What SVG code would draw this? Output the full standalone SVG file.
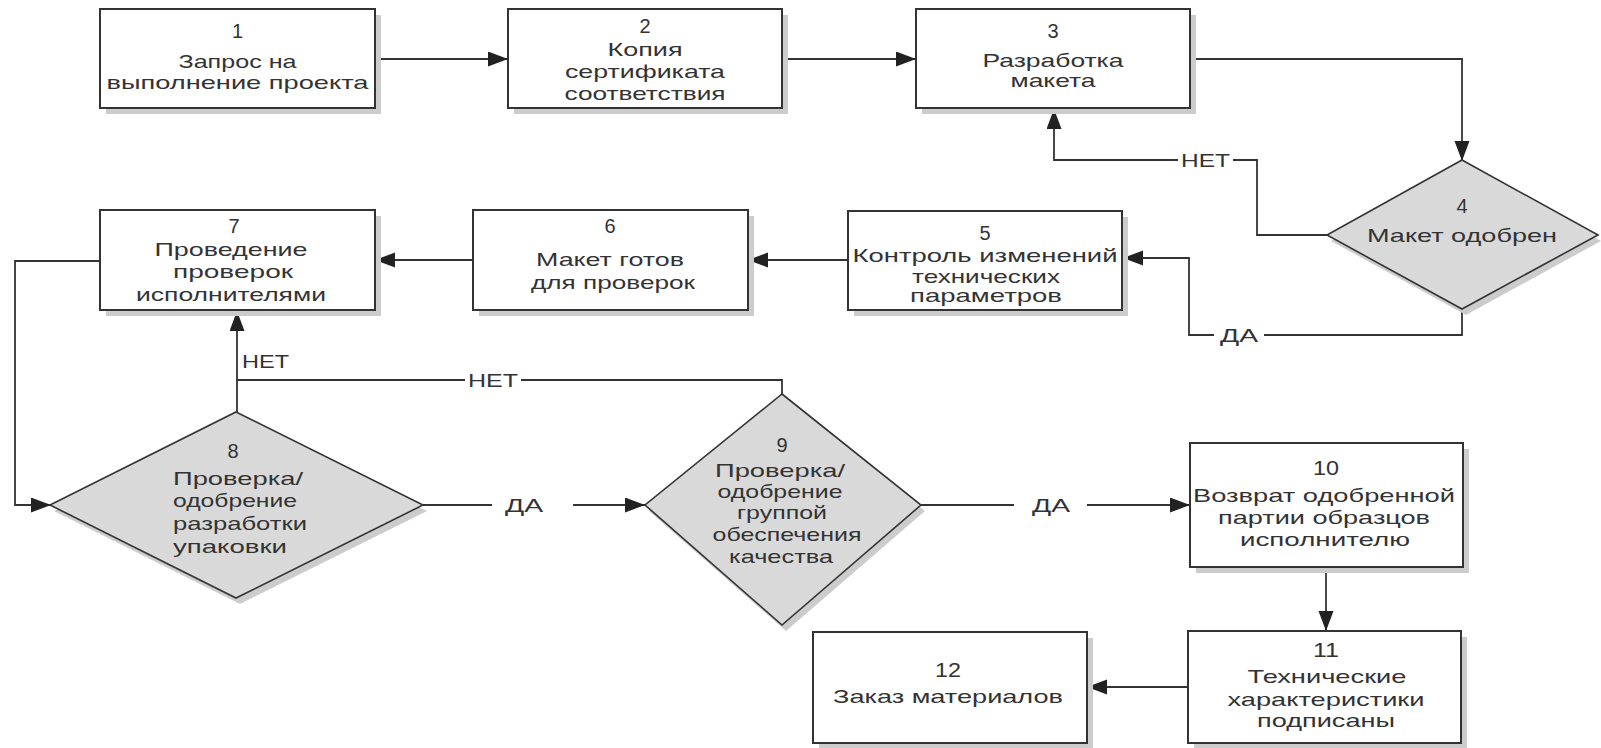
<svg xmlns="http://www.w3.org/2000/svg" width="1601" height="748" viewBox="0 0 1601 748">
  <style>
    .box { fill: #ffffff; stroke: #333333; stroke-width: 2; }
    .dia { fill: #d9d9d9; stroke: #333333; stroke-width: 1.6; }
    .shadow { fill: #cccccc; stroke: none; }
    .edge { fill: none; stroke: #333333; stroke-width: 1.8; }
    text { font-family: "Liberation Sans", Arial, sans-serif; font-size: 19px; fill: #333333; text-anchor: middle; }
    .num { font-size: 20px; }
    .left { text-anchor: start; }
    .lbl { font-size: 18px; }
  </style>
  <defs>
    <marker id="arrow" markerUnits="userSpaceOnUse" markerWidth="20" markerHeight="16" refX="20" refY="7.5" orient="auto">
      <path d="M0,0 L20,7.5 L0,15 z" fill="#222222"/>
    </marker>
  </defs>

  <rect width="1601" height="748" fill="#ffffff"/>

  <!-- connectors -->
  <g id="connectors">
    <path class="edge" d="M375 59 H508" marker-end="url(#arrow)"/>
    <path class="edge" d="M782 59 H916" marker-end="url(#arrow)"/>
    <path class="edge" d="M1190 59 H1462 V161" marker-end="url(#arrow)"/>
    <path class="edge" d="M1327 235 H1257 V160 H1233 M1178 160 H1054 V109" marker-end="url(#arrow)"/>
    <path class="edge" d="M1462 309 V335 H1264 M1214 335 H1189 V258 H1123" marker-end="url(#arrow)"/>
    <path class="edge" d="M848 260 H748" marker-end="url(#arrow)"/>
    <path class="edge" d="M473 260 H375" marker-end="url(#arrow)"/>
    <path class="edge" d="M100 261 H15 V505 H51" marker-end="url(#arrow)"/>
    <path class="edge" d="M237 412 V311" marker-end="url(#arrow)"/>
    <path class="edge" d="M782 394 V380 H521 M465 380 H237"/>
    <path class="edge" d="M423 505 H492 M573 505 H645" marker-end="url(#arrow)"/>
    <path class="edge" d="M921 505 H1014 M1087 505 H1190" marker-end="url(#arrow)"/>
    <path class="edge" d="M1326 567 V631" marker-end="url(#arrow)"/>
    <path class="edge" d="M1188 687 H1087" marker-end="url(#arrow)"/>

    <text class="lbl" x="1205.5" y="167" textLength="49" lengthAdjust="spacingAndGlyphs">НЕТ</text>
    <text class="lbl" x="1239" y="342" textLength="38" lengthAdjust="spacingAndGlyphs">ДА</text>
    <text class="lbl left" x="242" y="368" textLength="47" lengthAdjust="spacingAndGlyphs">НЕТ</text>
    <text class="lbl" x="493" y="387" textLength="50" lengthAdjust="spacingAndGlyphs">НЕТ</text>
    <text class="lbl" x="524" y="512" textLength="38" lengthAdjust="spacingAndGlyphs">ДА</text>
    <text class="lbl" x="1051" y="512" textLength="38" lengthAdjust="spacingAndGlyphs">ДА</text>
  </g>

  <!-- 1 -->
  <g id="node1">
    <rect class="shadow" x="106" y="15" width="275" height="99"/>
    <rect class="box" x="100" y="9" width="275" height="99"/>
    <text class="num" x="237.5" y="38">1</text>
    <text x="237.5" y="68" textLength="118" lengthAdjust="spacingAndGlyphs">Запрос на</text>
    <text x="237.5" y="89" textLength="262" lengthAdjust="spacingAndGlyphs">выполнение проекта</text>
  </g>

  <!-- 2 -->
  <g id="node2">
    <rect class="shadow" x="514" y="15" width="274" height="99"/>
    <rect class="box" x="508" y="9" width="274" height="99"/>
    <text class="num" x="645" y="33">2</text>
    <text x="645" y="56" textLength="75" lengthAdjust="spacingAndGlyphs">Копия</text>
    <text x="645" y="78" textLength="160" lengthAdjust="spacingAndGlyphs">сертификата</text>
    <text x="645" y="100" textLength="161" lengthAdjust="spacingAndGlyphs">соответствия</text>
  </g>

  <!-- 3 -->
  <g id="node3">
    <rect class="shadow" x="922" y="15" width="274" height="99"/>
    <rect class="box" x="916" y="9" width="274" height="99"/>
    <text class="num" x="1053" y="38">3</text>
    <text x="1053" y="67" textLength="141" lengthAdjust="spacingAndGlyphs">Разработка</text>
    <text x="1053" y="87" textLength="85" lengthAdjust="spacingAndGlyphs">макета</text>
  </g>

  <!-- 4 -->
  <g id="node4">
    <polygon class="shadow" points="1466,166 1601,241 1466,315 1331,241"/>
    <polygon class="dia" points="1462,160 1598,235 1462,309 1327,235"/>
    <text class="num" x="1462" y="213">4</text>
    <text x="1462" y="242" textLength="190" lengthAdjust="spacingAndGlyphs">Макет одобрен</text>
  </g>

  <!-- 5 -->
  <g id="node5">
    <rect class="shadow" x="854" y="217" width="274" height="99"/>
    <rect class="box" x="848" y="211" width="274" height="99"/>
    <text class="num" x="985" y="240">5</text>
    <text x="985" y="262" textLength="265" lengthAdjust="spacingAndGlyphs">Контроль изменений</text>
    <text x="986" y="283" textLength="148" lengthAdjust="spacingAndGlyphs">технических</text>
    <text x="986" y="302" textLength="152" lengthAdjust="spacingAndGlyphs">параметров</text>
  </g>

  <!-- 6 -->
  <g id="node6">
    <rect class="shadow" x="479" y="216" width="275" height="100"/>
    <rect class="box" x="473" y="210" width="275" height="100"/>
    <text class="num" x="610" y="233">6</text>
    <text x="610" y="266" textLength="148" lengthAdjust="spacingAndGlyphs">Макет готов</text>
    <text x="613" y="289" textLength="164" lengthAdjust="spacingAndGlyphs">для проверок</text>
  </g>

  <!-- 7 -->
  <g id="node7">
    <rect class="shadow" x="106" y="216" width="275" height="100"/>
    <rect class="box" x="100" y="210" width="275" height="100"/>
    <text class="num" x="234" y="233">7</text>
    <text x="231" y="256" textLength="153" lengthAdjust="spacingAndGlyphs">Проведение</text>
    <text x="233" y="278" textLength="120" lengthAdjust="spacingAndGlyphs">проверок</text>
    <text x="231" y="301" textLength="190" lengthAdjust="spacingAndGlyphs">исполнителями</text>
  </g>

  <!-- 8 -->
  <g id="node8">
    <polygon class="shadow" points="240,418 427,511 240,604 54,511"/>
    <polygon class="dia" points="236,412 423,505 236,598 50,505"/>
    <text class="num" x="233" y="458">8</text>
    <text class="left" x="173" y="485" textLength="130" lengthAdjust="spacingAndGlyphs">Проверка/</text>
    <text class="left" x="173" y="507" textLength="124" lengthAdjust="spacingAndGlyphs">одобрение</text>
    <text class="left" x="173" y="530" textLength="134" lengthAdjust="spacingAndGlyphs">разработки</text>
    <text class="left" x="173" y="553" textLength="114" lengthAdjust="spacingAndGlyphs">упаковки</text>
  </g>

  <!-- 9 -->
  <g id="node9">
    <polygon class="shadow" points="786,400 925,511 786,631 649,511"/>
    <polygon class="dia" points="782,394 921,505 782,625 645,505"/>
    <text class="num" x="782" y="452">9</text>
    <text x="780" y="477" textLength="130" lengthAdjust="spacingAndGlyphs">Проверка/</text>
    <text x="780" y="498" textLength="125" lengthAdjust="spacingAndGlyphs">одобрение</text>
    <text x="782" y="519" textLength="90" lengthAdjust="spacingAndGlyphs">группой</text>
    <text x="787" y="541" textLength="149" lengthAdjust="spacingAndGlyphs">обеспечения</text>
    <text x="781" y="563" textLength="104" lengthAdjust="spacingAndGlyphs">качества</text>
  </g>

  <!-- 10 -->
  <g id="node10">
    <rect class="shadow" x="1196" y="449" width="273" height="124"/>
    <rect class="box" x="1190" y="443" width="273" height="124"/>
    <text class="num" x="1326" y="475" textLength="26" lengthAdjust="spacingAndGlyphs">10</text>
    <text x="1324" y="502" textLength="262" lengthAdjust="spacingAndGlyphs">Возврат одобренной</text>
    <text x="1324" y="524" textLength="212" lengthAdjust="spacingAndGlyphs">партии образцов</text>
    <text x="1325" y="546" textLength="170" lengthAdjust="spacingAndGlyphs">исполнителю</text>
  </g>

  <!-- 11 -->
  <g id="node11">
    <rect class="shadow" x="1194" y="637" width="273" height="111"/>
    <rect class="box" x="1188" y="631" width="273" height="112"/>
    <text class="num" x="1326" y="657" textLength="26" lengthAdjust="spacingAndGlyphs">11</text>
    <text x="1327" y="683" textLength="159" lengthAdjust="spacingAndGlyphs">Технические</text>
    <text x="1326" y="706" textLength="197" lengthAdjust="spacingAndGlyphs">характеристики</text>
    <text x="1326" y="727" textLength="138" lengthAdjust="spacingAndGlyphs">подписаны</text>
  </g>

  <!-- 12 -->
  <g id="node12">
    <rect class="shadow" x="819" y="638" width="274" height="110"/>
    <rect class="box" x="813" y="632" width="274" height="111"/>
    <text class="num" x="948" y="677" textLength="26" lengthAdjust="spacingAndGlyphs">12</text>
    <text x="948" y="703" textLength="230" lengthAdjust="spacingAndGlyphs">Заказ материалов</text>
  </g>
</svg>
